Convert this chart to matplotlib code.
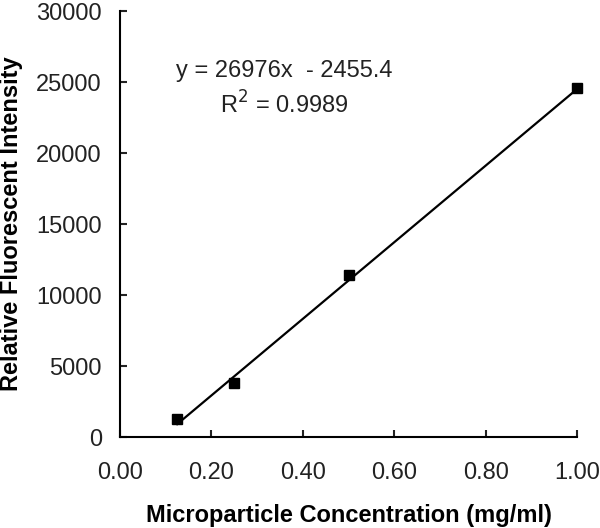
import matplotlib
matplotlib.use("Agg")
import matplotlib.pyplot as plt
import numpy as np

# measured data
conc = [0.125, 0.25, 0.5, 1.0]
intensity = [1250, 3850, 11450, 24600]

# reported linear fit
slope = 26976
intercept = -2455.4
r2 = 0.9989

x_ticks = [0.0, 0.2, 0.4, 0.6, 0.8, 1.0]
y_ticks = [0, 5000, 10000, 15000, 20000, 25000, 30000]

plt.rcParams["font.family"] = ["Liberation Sans", "DejaVu Sans"]

fig = plt.figure(figsize=(6, 5.28), dpi=100)
ax = fig.add_axes([0.2, 0.172, 0.762, 0.807])

fit_x = np.array([min(conc), max(conc)])
ax.plot(fit_x, slope * fit_x + intercept, color="black", linewidth=1.6, zorder=2)
ax.plot(conc, intensity, "s", color="black", markersize=7.5, zorder=3, clip_on=False)

ax.set_xlim(0, 1.0)
ax.set_ylim(0, 30000)
ax.set_xticks(x_ticks)
ax.set_xticklabels([f"{t:.2f}" for t in x_ticks])
ax.set_yticks(y_ticks)
ax.set_yticklabels([str(t) for t in y_ticks])

ax.spines["top"].set_visible(False)
ax.spines["right"].set_visible(False)
ax.spines["left"].set_linewidth(1.5)
ax.spines["bottom"].set_linewidth(1.5)
ax.tick_params(direction="in", length=5, width=1.5, labelsize=17, colors="#222222")
ax.tick_params(axis="x", pad=18)
ax.tick_params(axis="y", pad=13)

ax.set_xlabel("Microparticle Concentration (mg/ml)", fontsize=17, fontweight="bold")
ax.set_ylabel("Relative Fluorescent Intensity", fontsize=17, fontweight="bold")
ax.xaxis.set_label_coords(0.5, -0.157)
ax.yaxis.set_label_coords(-0.212, 0.5)

ax.text(0.36, 0.86, f"y = {slope}x  - {abs(intercept)}", transform=ax.transAxes,
        ha="center", va="center", fontsize=17, color="#222222")
ax.text(0.36, 0.78, f"R$^2$ = {r2}", transform=ax.transAxes,
        ha="center", va="center", fontsize=17, color="#222222")

fig.savefig("out.png", dpi=100)
